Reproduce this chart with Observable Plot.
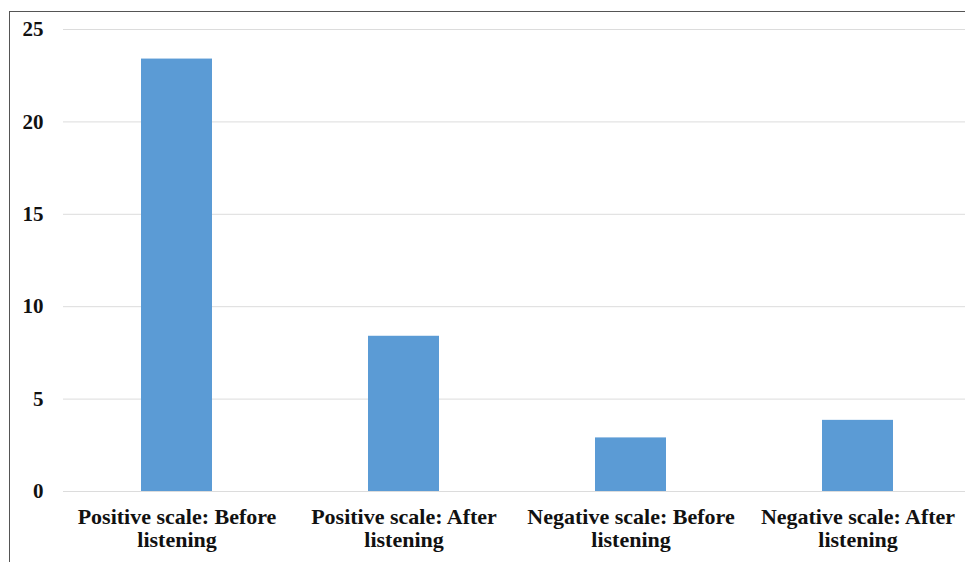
<!DOCTYPE html>
<html><head><meta charset="utf-8">
<script src="https://cdn.jsdelivr.net/npm/d3@7"></script>
<script src="https://cdn.jsdelivr.net/npm/@observablehq/plot@0.6"></script>
<style>
html,body{margin:0;padding:0;background:#fff;overflow:hidden;width:965px;height:562px}
#chart{position:absolute;left:0;top:0;width:971px}
#chart svg{max-width:none !important}
#frame{position:absolute;left:9px;top:11px;width:970px;height:570px;border-left:1.5px solid #555;border-top:1.5px solid #555;pointer-events:none}
</style></head><body>
<div id="chart"></div><div id="frame"></div>
<script>
const categories = ["Positive scale: Before listening", "Positive scale: After listening", "Negative scale: Before listening", "Negative scale: After listening"];
const values = [23.4, 8.4, 2.9, 3.85];
const xLabels = ["Positive scale: Before\nlistening", "Positive scale: After\nlistening", "Negative scale: Before\nlistening", "Negative scale: After\nlistening"];
const yTicks = [0, 5, 10, 15, 20, 25];

const data = categories.map((c, i) => ({category: c, value: values[i]}));
const labelOf = new Map(categories.map((c, i) => [c, xLabels[i]]));

const chart = Plot.plot({
  width: 971,
  height: 562,
  marginLeft: 63,
  marginRight: 0,
  marginTop: 29,
  marginBottom: 71,
  x: {domain: categories, paddingInner: 0.687, paddingOuter: 0.3435, axis: null},
  y: {domain: [0, 25], axis: null},
  style: {fontFamily: "'Liberation Serif', 'Times New Roman', serif", fontWeight: "bold", fontSize: "21px", color: "#111", background: "transparent", overflow: "visible"},
  marks: [
    Plot.gridY(yTicks, {stroke: "#dcdcdc", strokeOpacity: 1, strokeWidth: 1}),
    Plot.barY(data, {x: "category", y: "value", fill: "#5b9bd5"}),
    Plot.axisY(yTicks, {tickSize: 0, tickPadding: 20, fontSize: 21, fontWeight: "bold", fill: "#111", label: null}),
    Plot.axisX({tickSize: 0, tickPadding: 16, fontSize: 22, fontWeight: "bold", fill: "#111", lineHeight: 1.05, label: null, tickFormat: d => labelOf.get(d)})
  ]
});
document.getElementById("chart").appendChild(chart);
</script>
</body></html>
